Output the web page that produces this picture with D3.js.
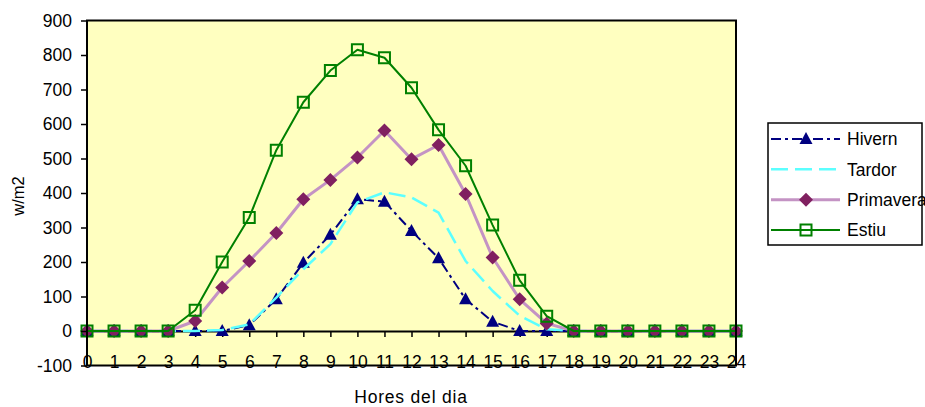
<!DOCTYPE html>
<html>
<head>
<meta charset="utf-8">
<script src="https://cdn.jsdelivr.net/npm/d3@7"></script>
<style>
	body { margin: 0; background: #fff; }
	text { font-family: "Liberation Sans", Arial, sans-serif; }
</style>
</head>
<body>
<div id="chart"></div>
<script>
// hores del dia
var hours = d3.range(0, 25);
var yTicks = [-100, 0, 100, 200, 300, 400, 500, 600, 700, 800, 900];

// w/m2 per estacio
var hivern    = [0, 0, 0, 0, 0, 0, 17, 92, 198, 279, 382, 375, 290, 211, 92, 27, 0, 0, 0, 0, 0, 0, 0, 0, 0];
var tardor    = [0, 0, 0, 0, 0, 3, 19, 97, 179, 252, 373, 402, 387, 343, 203, 116, 44, 5, 0, 0, 0, 0, 0, 0, 0];
var primavera = [0, 0, 0, 0, 29, 126, 203, 284, 382, 438, 503, 581, 498, 539, 397, 213, 92, 22, 0, 0, 0, 0, 0, 0, 0];
var estiu     = [0, 0, 0, 0, 60, 200, 329, 524, 663, 755, 815, 792, 705, 583, 479, 307, 147, 43, 0, 0, 0, 0, 0, 0, 0];

var seriesNames = ['Hivern', 'Tardor', 'Primavera', 'Estiu'];

var width = 925;
var height = 407;
var fontSize = 17.5;

var plot = { left: 87, right: 736, top: 20.5, bottom: 365.5 };

var svg = d3.select("#chart")
	.append("svg")
	.attr("width", width)
	.attr("height", height);

var x = d3.scaleLinear()
	.domain([0, 24])
	.range([plot.left, plot.right]);

var y = d3.scaleLinear()
	.domain([-100, 900])
	.range([plot.bottom, plot.top]);

var series = [
	{ name: seriesNames[0], values: hivern, stroke: '#000080', width: 2, dash: '10,4,3,4', marker: 'triangle' },
	{ name: seriesNames[1], values: tardor, stroke: '#5cffff', width: 2.5, dash: '17,7', marker: null },
	{ name: seriesNames[2], values: primavera, stroke: '#c493c4', width: 3, dash: null, marker: 'diamond' },
	{ name: seriesNames[3], values: estiu, stroke: '#008000', width: 2, dash: null, marker: 'square' }
];

// plot area background
svg.append('rect')
	.attr('x', plot.left)
	.attr('y', plot.top)
	.attr('width', plot.right - plot.left)
	.attr('height', plot.bottom - plot.top)
	.attr('fill', '#ffffc0');

// x axis line at zero, ticks downward
var xAxis = svg.append('g')
	.attr('transform', 'translate(0,' + y(0) + ')')
	.call(d3.axisBottom(x).tickValues(hours).tickSize(6).tickFormat(''));
xAxis.select('.domain').attr('stroke', '#000').attr('stroke-width', 2);
xAxis.selectAll('.tick line').attr('stroke', '#000').attr('stroke-width', 1.5);

var line = d3.line()
	.x(function(d, i) { return x(hours[i]); })
	.y(function(d) { return y(d); });

// marker shapes (excel style)
var triPath = 'M0,-7L6.5,5L-6.5,5Z';
var diaPath = 'M0,-7L7,0L0,7L-7,0Z';
var sqPath = 'M-5.5,-5.5H5.5V5.5H-5.5Z';

function drawMarker(g, s) {
	if (s.marker == 'triangle') {
		g.append('path').attr('d', triPath).attr('fill', '#000080');
	} else if (s.marker == 'diamond') {
		g.append('path').attr('d', diaPath).attr('fill', '#802060');
	} else if (s.marker == 'square') {
		g.append('path').attr('d', sqPath)
			.attr('fill', 'none')
			.attr('stroke', '#008000')
			.attr('stroke-width', 2);
	}
}

series.forEach(function(s) {
	var g = svg.append('g').attr('class', 'serie');
	g.append('path')
		.attr('d', line(s.values))
		.attr('fill', 'none')
		.attr('stroke', s.stroke)
		.attr('stroke-width', s.width)
		.attr('stroke-dasharray', s.dash)
		.attr('stroke-linejoin', 'round');
	if (s.marker) {
		g.selectAll('g.mk')
			.data(s.values).enter()
			.append('g')
			.attr('class', 'mk')
			.attr('transform', function(d, i) { return 'translate(' + x(hours[i]) + ',' + y(d) + ')'; })
			.each(function() { drawMarker(d3.select(this), s); });
	}
});

// plot area frame
svg.append('rect')
	.attr('x', plot.left)
	.attr('y', plot.top)
	.attr('width', plot.right - plot.left)
	.attr('height', plot.bottom - plot.top)
	.attr('fill', 'none')
	.attr('stroke', '#000')
	.attr('stroke-width', 2);

// y axis
var yAxis = svg.append('g')
	.attr('transform', 'translate(' + plot.left + ',0)')
	.call(d3.axisLeft(y).tickValues(yTicks).tickSize(6).tickPadding(9)
		.tickFormat(function(d) { return String(d); }));
yAxis.select('.domain').remove();
yAxis.selectAll('.tick line').attr('stroke', '#000').attr('stroke-width', 1.5);
yAxis.selectAll('text').attr('font-size', fontSize).attr('fill', '#000');

// x tick labels sit at the bottom of the plot
var xLabels = svg.append('g')
	.attr('transform', 'translate(0,345)')
	.call(d3.axisBottom(x).tickValues(hours).tickSize(0).tickPadding(11));
xLabels.select('.domain').remove();
xLabels.selectAll('text').attr('font-size', fontSize).attr('fill', '#000');

// axis titles
svg.append('text')
	.attr('x', 411)
	.attr('y', 403)
	.attr('text-anchor', 'middle')
	.attr('font-size', fontSize)
	.attr('letter-spacing', 0.8)
	.text('Hores del dia');

svg.append('text')
	.attr('transform', 'translate(24,196) rotate(-90)')
	.attr('text-anchor', 'middle')
	.attr('font-size', 16.5)
	.text('w/m2');

// legend
var legend = svg.append('g').attr('class', 'legend');
legend.append('rect')
	.attr('x', 768)
	.attr('y', 123)
	.attr('width', 154)
	.attr('height', 122)
	.attr('fill', '#fff')
	.attr('stroke', '#000')
	.attr('stroke-width', 1.5);

var legendRow = d3.scalePoint()
	.domain(seriesNames)
	.range([139, 230]);

series.forEach(function(s) {
	var ly = legendRow(s.name);
	var g = legend.append('g');
	g.append('line')
		.attr('x1', 771)
		.attr('x2', 840)
		.attr('y1', ly)
		.attr('y2', ly)
		.attr('stroke', s.stroke)
		.attr('stroke-width', s.width)
		.attr('stroke-dasharray', s.dash);
	if (s.marker) {
		var mk = g.append('g').attr('transform', 'translate(806,' + ly + ')');
		drawMarker(mk, s);
	}
	g.append('text')
		.attr('x', 847)
		.attr('y', ly)
		.attr('dy', '0.36em')
		.attr('font-size', fontSize)
		.text(s.name);
});
</script>
</body>
</html>
